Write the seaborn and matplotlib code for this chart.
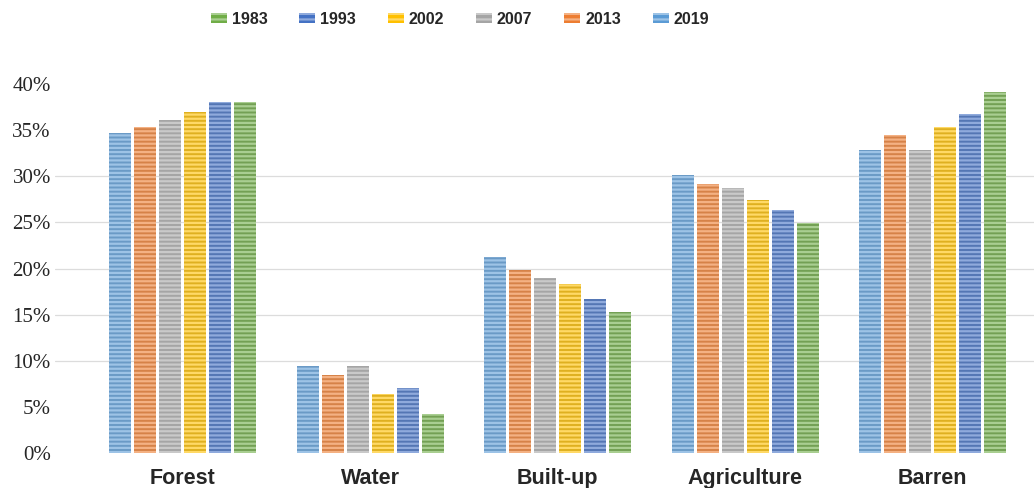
"""
Land use share per class, 1983-2019 - grouped bars with striped fill.
"""
import numpy as np
import pandas as pd
import matplotlib
matplotlib.use("Agg")
import matplotlib.pyplot as plt
import matplotlib.colors as mcolors
from matplotlib.patches import Patch
import seaborn as sns

CLASSES = ["Forest", "Water", "Built-up", "Agriculture", "Barren"]
YEARS   = ["2019", "2013", "2007", "2002", "1993", "1983"]   # order of bars in a group

# share of area (%), one list per year, in CLASSES order
V2019 = [34.7, 9.4, 21.2, 30.1, 32.8]
V2013 = [35.3, 8.5, 19.8, 29.2, 34.5]
V2007 = [36.1, 9.4, 19.0, 28.7, 32.8]
V2002 = [37.0, 6.4, 18.3, 27.4, 35.3]
V1993 = [38.1, 7.1, 16.7, 26.3, 36.8]
V1983 = [38.1, 4.2, 15.3, 24.9, 39.1]

Y_TICKS = [0, 5, 10, 15, 20, 25, 30, 35, 40]
GRID_AT = [10, 15, 20, 25, 30]

COLORES = {
    "2019": "#5B9BD5",
    "2013": "#ED7D31",
    "2007": "#A5A5A5",
    "2002": "#FFC000",
    "1993": "#4472C4",
    "1983": "#70AD47",
}

valores = [V2019, V2013, V2007, V2002, V1993, V1983]
df = pd.DataFrame(
    [(c, y, v) for y, vals in zip(YEARS, valores) for c, v in zip(CLASSES, vals)],
    columns=["classe", "ano", "valor"],
)

def clarear(cor, f=0.4):
    r, g, b = mcolors.to_rgb(cor)
    return (r + (1 - r) * f, g + (1 - g) * f, b + (1 - b) * f)

sns.set_style("white")
plt.rcParams["hatch.linewidth"] = 1.6

fig = plt.figure(figsize=(10.34, 4.88), dpi=100)
ax = fig.add_axes([55 / 1034, 35 / 488, 1 - 55 / 1034, (453 - 84) / 488])

sns.barplot(data=df, x="classe", y="valor", hue="ano", order=CLASSES,
            hue_order=YEARS, palette=COLORES, width=0.8, gap=0.12,
            legend=False, ax=ax, errorbar=None)

# stripe texture: light horizontal lines on every bar
for i, ano in enumerate(YEARS):
    for p in ax.containers[i]:
        p.set_hatch("----")
        p.set_edgecolor(clarear(COLORES[ano]))
        p.set_linewidth(0)

for g in GRID_AT:
    ax.axhline(g, color="#DCDCDC", lw=0.9, zorder=0)

ax.set_ylim(0, 40)
ax.set_xlim(-0.68, 4.54)
ax.set_yticks(Y_TICKS)
ax.set_yticklabels([f"{t}%" for t in Y_TICKS], fontfamily="Liberation Serif", fontsize=15)
ax.set_xticks(range(len(CLASSES)))
ax.set_xticklabels(CLASSES, fontfamily="Liberation Sans", fontweight="bold", fontsize=15.5)
ax.tick_params(axis="y", length=0, pad=3)
ax.tick_params(axis="x", length=0, pad=11)
ax.set_xlabel("")
ax.set_ylabel("")
for s in ax.spines.values():
    s.set_visible(False)

# legend reads oldest -> newest
handles = [Patch(facecolor=COLORES[a], edgecolor=clarear(COLORES[a]), hatch="---",
                 linewidth=0, label=a) for a in YEARS[::-1]]
fig.legend(handles=handles, loc="upper center", bbox_to_anchor=(0.445, 1.005),
           ncol=6, frameon=False, handlelength=1.0, handleheight=0.6,
           handletextpad=0.3, columnspacing=2.0,
           prop={"family": "Liberation Sans", "weight": "bold", "size": 11.5})

fig.savefig("out.png", dpi=100)
